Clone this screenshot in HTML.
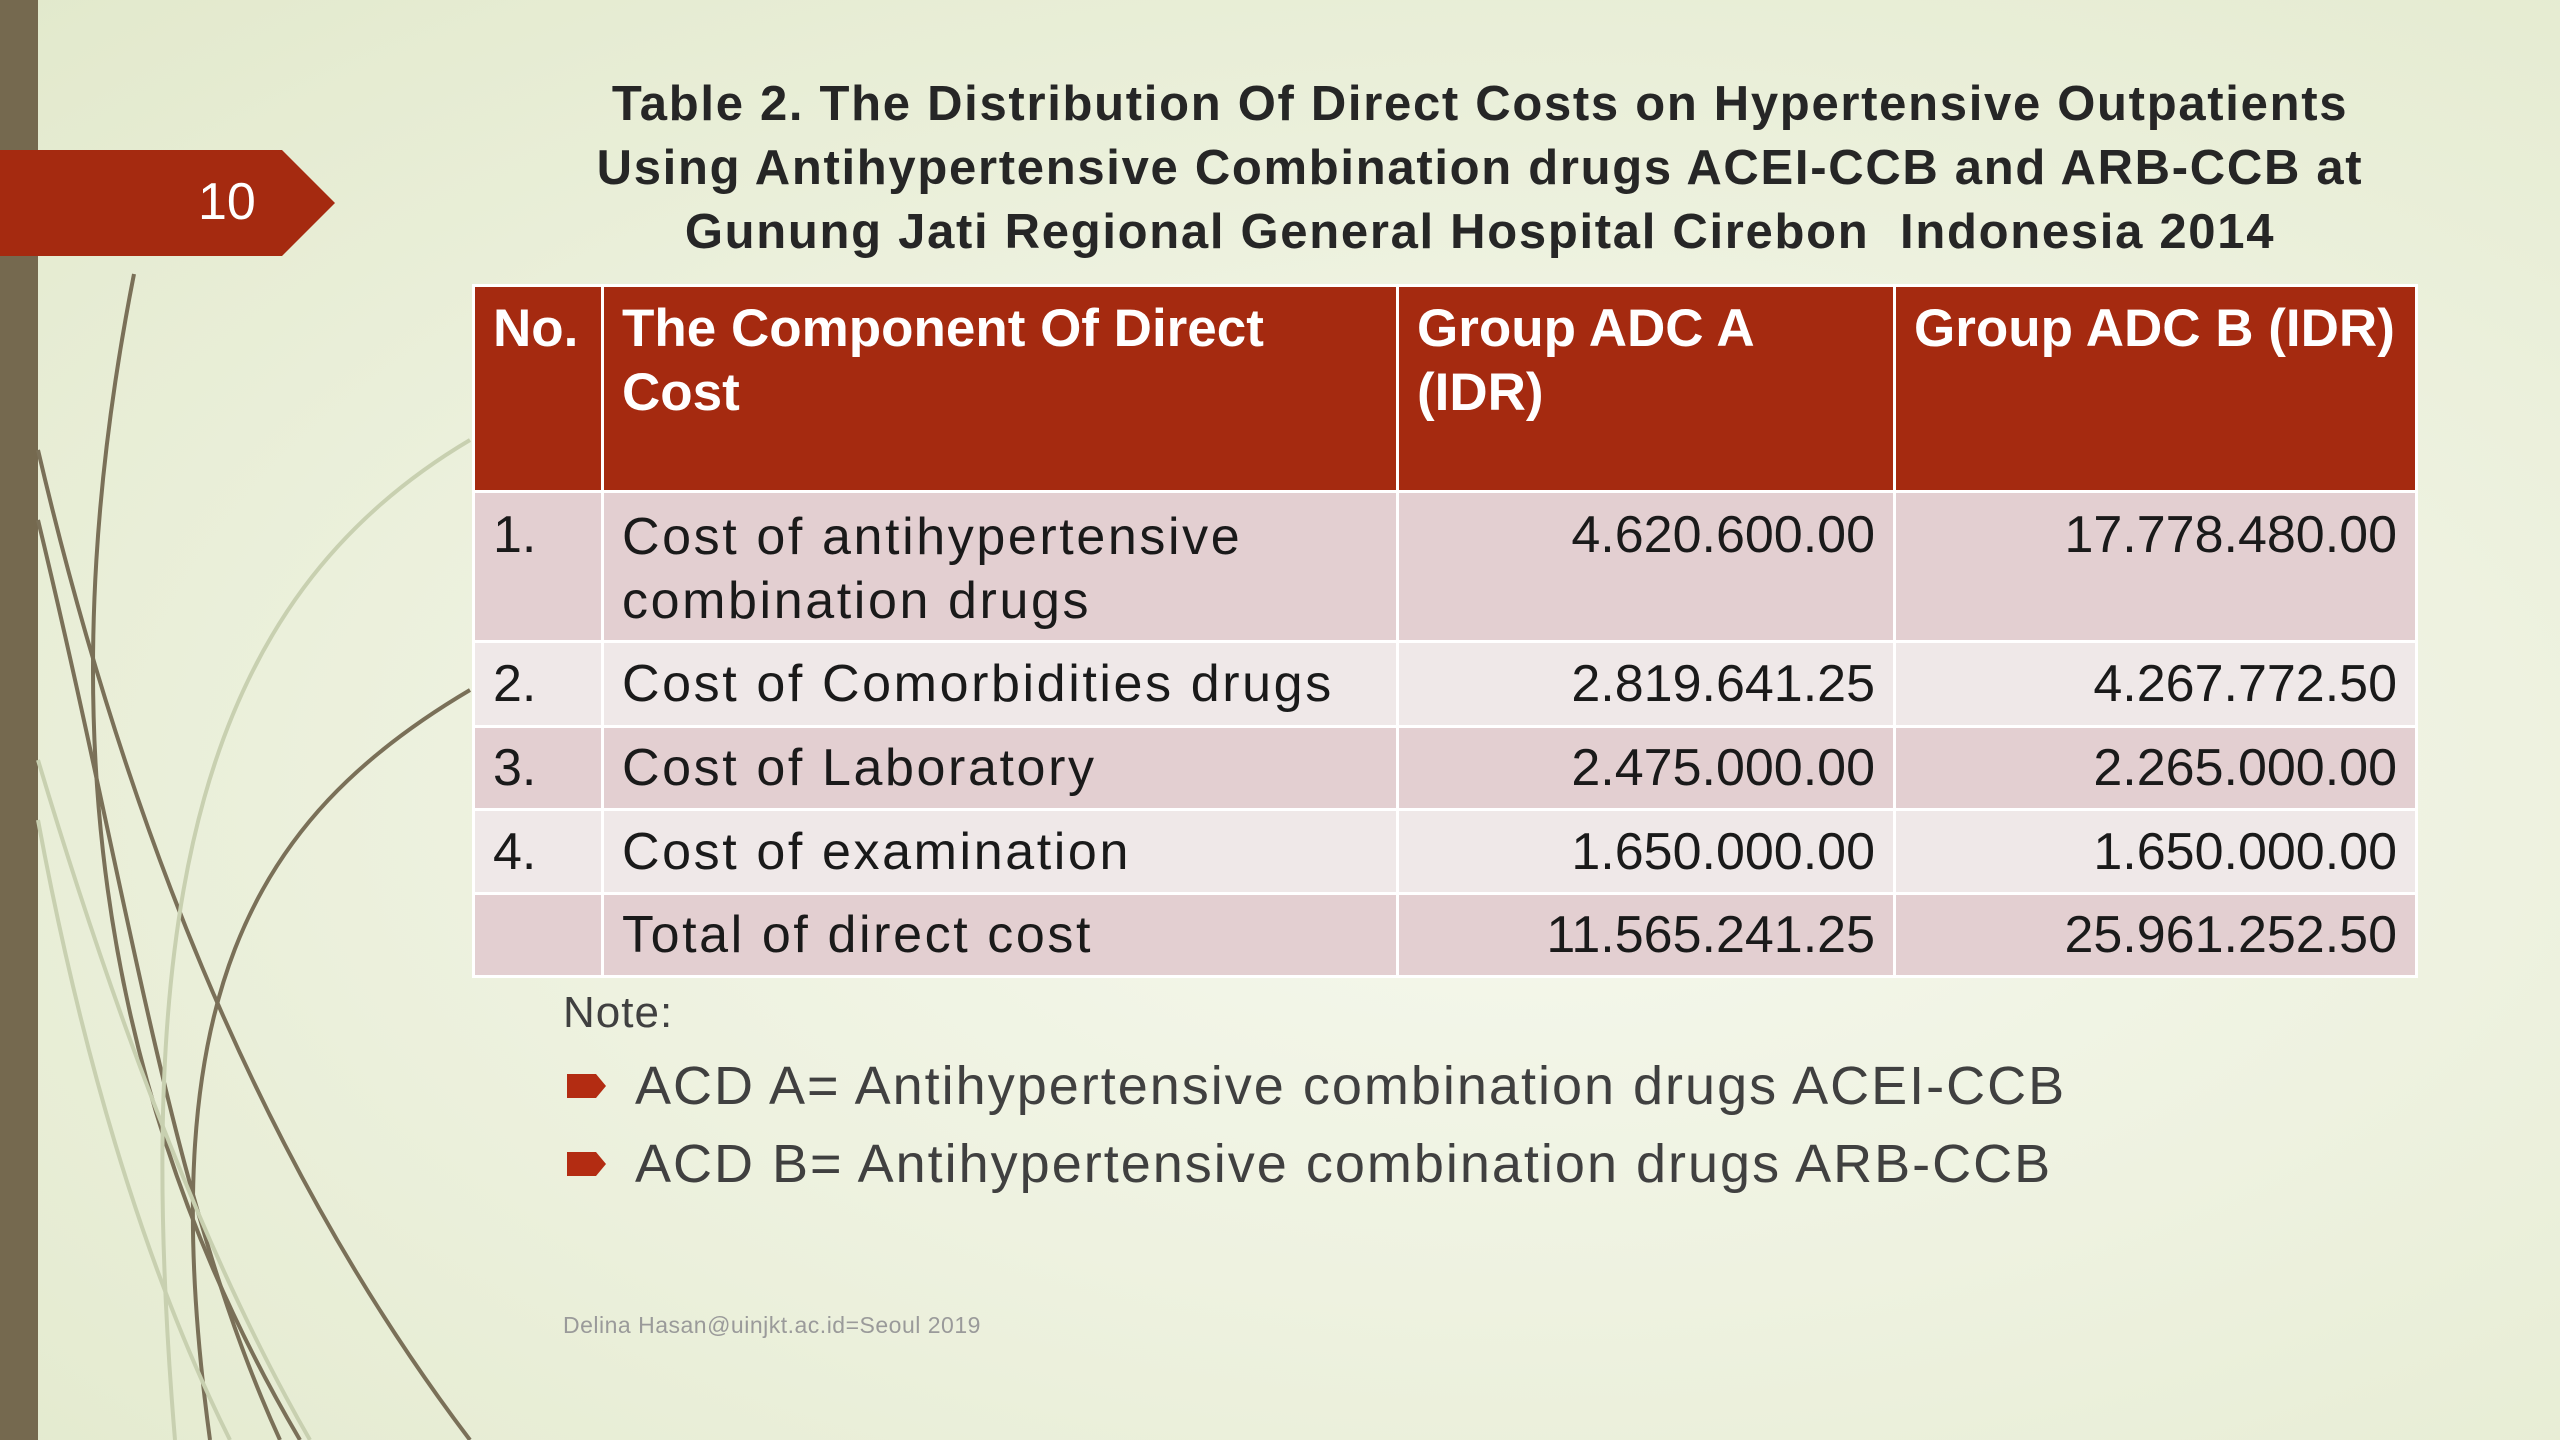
<!DOCTYPE html>
<html><head><meta charset="utf-8"><style>
html,body{margin:0;padding:0}
body{width:2560px;height:1440px;position:relative;overflow:hidden;font-family:"Liberation Sans",sans-serif;
background:radial-gradient(ellipse at 60% 55%,#f6f8ee 0%,#eef2e0 45%,#e2e9cc 100%);}
.abs{position:absolute}
#title{left:500px;top:72px;width:1960px;text-align:center;font-weight:bold;font-size:49px;line-height:64px;color:#262626;letter-spacing:1.7px}
table{position:absolute;left:472px;top:284px;border-collapse:collapse;table-layout:fixed}
td{border:3px solid #fff;padding:0 18px;font-size:52px;color:#1a1a1a;vertical-align:top}
td.t{letter-spacing:2.6px}
tr.h td{background:#a52a10;color:#fff;font-weight:bold;font-size:53px;line-height:64px;padding-top:10px}
tr.o td{background:#e3cfd1}
tr.e td{background:#efe8e8}
td.n{text-align:right}
</style></head><body>
<svg class="abs" style="left:0;top:0" width="2560" height="1440">
<rect x="0" y="0" width="38" height="1440" fill="#75694f"/>
<g fill="none" stroke="#7a7058" stroke-width="4">
<path d="M134,274 C60,650 70,1050 300,1440"/>
<path d="M38,450 C120,800 250,1150 470,1440"/>
<path d="M38,520 C130,900 170,1200 280,1440"/>
<path d="M470,690 C250,820 150,1000 210,1440"/>
</g>
<g fill="none" stroke="#c8d0b0" stroke-width="4">
<path d="M470,440 C200,600 130,900 175,1440"/>
<path d="M38,760 C110,1000 200,1250 310,1440"/>
<path d="M38,820 C90,1100 160,1300 230,1440"/>
</g>
<polygon points="0,150 282,150 335,203 282,256 0,256" fill="#a52a10"/>
<polygon points="567,1074 596,1074 606,1086 596,1098 567,1098" fill="#b32c12"/>
<polygon points="567,1152 596,1152 606,1164 596,1176 567,1176" fill="#b32c12"/>
</svg>
<div class="abs" style="left:198px;top:172px;font-size:52px;color:#fff">10</div>
<div id="title" class="abs">Table 2. The Distribution Of Direct Costs on Hypertensive Outpatients<br>Using Antihypertensive Combination drugs ACEI-CCB and ARB-CCB at<br>Gunung Jati Regional General Hospital Cirebon&nbsp; Indonesia 2014</div>
<table>
<colgroup><col style="width:129px"><col style="width:795px"><col style="width:497px"><col style="width:522px"></colgroup>
<tr class="h" style="height:206px"><td>No.</td><td>The Component Of Direct<br>Cost</td><td>Group ADC A<br>(IDR)</td><td>Group ADC B (IDR)</td></tr>
<tr class="o" style="height:150px"><td style="padding-top:12px">1.</td><td class="t" style="line-height:64px;padding-top:12px">Cost of antihypertensive combination drugs</td><td class="n" style="padding-top:12px">4.620.600.00</td><td class="n" style="padding-top:12px">17.778.480.00</td></tr>
<tr class="e" style="height:85px"><td style="vertical-align:middle">2.</td><td class="t" style="vertical-align:middle">Cost of Comorbidities drugs</td><td class="n" style="vertical-align:middle">2.819.641.25</td><td class="n" style="vertical-align:middle">4.267.772.50</td></tr>
<tr class="o" style="height:83px"><td style="vertical-align:middle">3.</td><td class="t" style="vertical-align:middle">Cost of Laboratory</td><td class="n" style="vertical-align:middle">2.475.000.00</td><td class="n" style="vertical-align:middle">2.265.000.00</td></tr>
<tr class="e" style="height:84px"><td style="vertical-align:middle">4.</td><td class="t" style="vertical-align:middle">Cost of examination</td><td class="n" style="vertical-align:middle">1.650.000.00</td><td class="n" style="vertical-align:middle">1.650.000.00</td></tr>
<tr class="o" style="height:83px"><td></td><td class="t" style="vertical-align:middle">Total of direct cost</td><td class="n" style="vertical-align:middle">11.565.241.25</td><td class="n" style="vertical-align:middle">25.961.252.50</td></tr>
</table>
<div class="abs" style="left:563px;top:988px;font-size:44px;color:#404040;letter-spacing:1px">Note:</div>
<div class="abs" style="left:635px;top:1055px;font-size:54px;color:#404040;letter-spacing:2px">ACD A= Antihypertensive combination drugs ACEI-CCB</div>
<div class="abs" style="left:635px;top:1133px;font-size:54px;color:#404040;letter-spacing:2px">ACD B= Antihypertensive combination drugs ARB-CCB</div>
<div class="abs" style="left:563px;top:1312px;font-size:23px;color:#9a9a9a;letter-spacing:0.5px">Delina Hasan@uinjkt.ac.id=Seoul 2019</div>
</body></html>
